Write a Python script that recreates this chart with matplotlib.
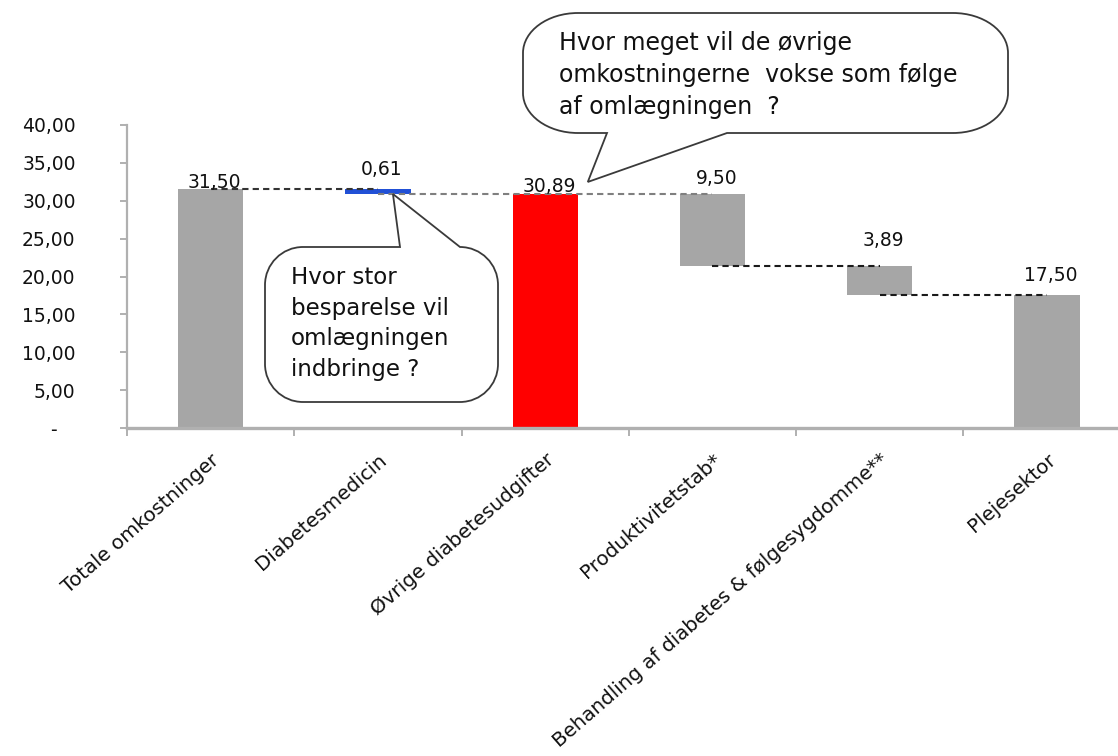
import matplotlib
matplotlib.use("Agg")
import matplotlib.pyplot as plt
from matplotlib.path import Path
from matplotlib.patches import PathPatch

# --- data -------------------------------------------------------------
categories = ["Totale omkostninger", "Diabetesmedicin", "Øvrige diabetesudgifter",
              "Produktivitetstab*", "Behandling af diabetes & følgesygdomme**",
              "Plejesektor"]
values = [31.50, 0.61, 30.89, 9.50, 3.89, 17.50]
steps = ["total", "down", "total", "down", "down", "total"]
y_ticks = [0, 5, 10, 15, 20, 25, 30, 35, 40]
y_tick_labels = ["-   ", "5,00", "10,00", "15,00", "20,00", "25,00", "30,00",
                 "35,00", "40,00"]
note_savings = "Hvor stor\nbesparelse vil\nomlægningen\nindbringe ?"
note_growth = ("Hvor meget vil de øvrige\nomkostningerne  vokse som følge\n"
               "af omlægningen  ?")

# --- styling ----------------------------------------------------------
bar_colors = ["#a6a6a6", "#2150d6", "#ff0000", "#a6a6a6", "#a6a6a6", "#a6a6a6"]
connector_colors = ["#333333", "#7f7f7f", "#7f7f7f", "#1a1a1a", "#1a1a1a"]
label_gap_px = [1, 14, 2, 10, 20, 14]
text_color = "#111111"
axis_color = "#b0b0b0"

W, H, DPI = 1118, 756, 100
fig = plt.figure(figsize=(W / DPI, H / DPI), dpi=DPI)
plt.rcParams["font.family"] = ["DejaVu Sans"]

# axes placed in pixel terms: left spine at x=127, y from 125 (40) to 428 (0)
ax = fig.add_axes([127 / W, (H - 428) / H, (W - 127) / W, (428 - 125) / H])
ax.set_xlim(-0.5, 5.425)
ax.set_ylim(0, 40)

# waterfall bases
bases, levels = [], []
level = 0.0
for v, s in zip(values, steps):
    if s == "total":
        base = 0.0
        level = v
    else:
        base = level - v
        level = base
    bases.append(base)
    levels.append(level)

xs = list(range(len(categories)))
ax.bar(xs, values, bottom=bases, width=0.39, color=bar_colors, zorder=2)

# dashed connectors between neighbouring bars
for i in range(len(xs) - 1):
    ax.plot([xs[i], xs[i + 1]], [levels[i], levels[i]],
            color=connector_colors[i], lw=1.5, linestyle=(0, (3, 2)), zorder=3)

# value labels
for i, (x, v, b) in enumerate(zip(xs, values, bases)):
    ax.annotate(f"{v:.2f}".replace(".", ","), (x, b + v),
                xytext=(3, label_gap_px[i] * 0.72), textcoords="offset points",
                ha="center", va="baseline", fontsize=13.5, color=text_color,
                zorder=4)

# axes styling
for side in ("top", "right"):
    ax.spines[side].set_visible(False)
ax.spines["left"].set_color(axis_color)
ax.spines["left"].set_linewidth(1.6)
ax.spines["bottom"].set_color(axis_color)
ax.spines["bottom"].set_linewidth(2.4)

ax.set_yticks(y_ticks)
ax.set_yticklabels(y_tick_labels)
ax.tick_params(axis="y", direction="out", length=5, width=1.4, colors=axis_color,
               labelcolor=text_color, labelsize=13.5, pad=32)

ax.set_xticks(xs)
ax.set_xticklabels(categories, rotation=41, ha="right", rotation_mode="anchor",
                   fontsize=14.3, color=text_color)
ax.tick_params(axis="x", which="major", length=0, pad=16)
ax.set_xticks([x - 0.5 for x in xs], minor=True)
ax.tick_params(axis="x", which="minor", direction="out", length=6, width=1.4,
               colors=axis_color)

# --- speech bubbles (drawn on a pixel overlay) -------------------------
ov = fig.add_axes([0, 0, 1, 1], zorder=10)
ov.set_xlim(0, W)
ov.set_ylim(H, 0)
ov.axis("off")
ov.patch.set_alpha(0)


def to_px(x, y):
    px, py = ax.transData.transform((x, y))
    return px, H - py


def bubble(left, top, right, bottom, rx, ry, edge, t0, t1, tip):
    k = 0.5523
    verts, codes = [], []

    def add(p, c):
        verts.append(p)
        codes.append(c)

    def corner(c1, c2, p):
        for q in (c1, c2, p):
            add(q, Path.CURVE4)

    add((left + rx, top), Path.MOVETO)
    if edge == "top":
        add((t0, top), Path.LINETO)
        add(tip, Path.LINETO)
        add((t1, top), Path.LINETO)
    add((right - rx, top), Path.LINETO)
    corner((right - rx + k * rx, top), (right, top + ry - k * ry), (right, top + ry))
    add((right, bottom - ry), Path.LINETO)
    corner((right, bottom - ry + k * ry), (right - rx + k * rx, bottom),
           (right - rx, bottom))
    if edge == "bottom":
        add((t1, bottom), Path.LINETO)
        add(tip, Path.LINETO)
        add((t0, bottom), Path.LINETO)
    add((left + rx, bottom), Path.LINETO)
    corner((left + rx - k * rx, bottom), (left, bottom - ry + k * ry),
           (left, bottom - ry))
    add((left, top + ry), Path.LINETO)
    corner((left, top + ry - k * ry), (left + rx - k * rx, top), (left + rx, top))
    add((left + rx, top), Path.CLOSEPOLY)
    return PathPatch(Path(verts, codes), facecolor="white", edgecolor="#3a3a3a",
                     lw=1.3)


tip_low = to_px(1.09, levels[1])
tip_high = to_px(2.255, 32.48)
ov.add_patch(bubble(265, 247, 498, 402, 38, 38, "top", 400, 460, tip_low))
ov.add_patch(bubble(523, 13, 1008, 133, 55, 40, "bottom", 607, 727, tip_high))

ov.text(291, 266, note_savings, ha="left", va="top", fontsize=16.5,
        color=text_color, linespacing=1.42)
ov.text(559, 31, note_growth, ha="left", va="top", fontsize=17,
        color=text_color, linespacing=1.42)

fig.savefig("out.png", dpi=DPI)
